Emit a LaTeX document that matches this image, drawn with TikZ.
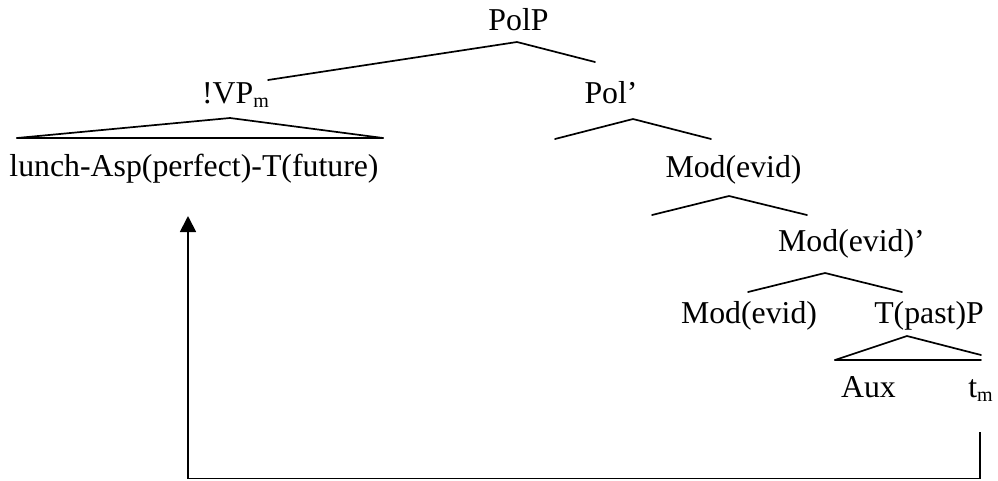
\documentclass[tikz,border=0pt]{standalone}
\usepackage{fontspec}
\setmainfont{Liberation Serif}
\usetikzlibrary{arrows.meta}
\newcommand\lowsub[1]{\raisebox{-0.13em}{\fontsize{20}{20}\selectfont #1}}
\begin{document}
\begin{tikzpicture}[x=1pt,y=-1pt,
  lbl/.style={anchor=base,inner sep=0pt,font=\fontsize{31.8}{36}\selectfont},
  branch/.style={line width=1.7pt,line cap=round},
  mover/.style={line width=1.8pt,-{Triangle[length=16pt,width=16pt]}}]
\useasboundingbox (0,0) rectangle (998,480);
% labels
\node[lbl] (polp) at (518.5,30) {PolP};
\node[lbl] (vp) at (235.5,103) {!VP\lowsub{m}};
\node[lbl] (polbar) at (611,103) {Pol’};
\node[lbl] (lunch) at (194,176.5) {lunch-Asp(perfect)-T(future)};
\node[lbl] (mod1) at (733.5,177) {Mod(evid)};
\node[lbl] (modbar) at (851.5,251) {Mod(evid)’};
\node[lbl] (mod2) at (749,323) {Mod(evid)};
\node[lbl] (tp) at (929,323) {T(past)P};
\node[lbl] (aux) at (868.5,397) {Aux};
\node[lbl] (tm) at (980.5,397) {t\lowsub{m}};
% branch points
\coordinate (polpA) at (517,42);
\coordinate (polpL) at (268,80);
\coordinate (polpR) at (595,62);
\coordinate (vpA) at (230,118);
\coordinate (vpL) at (17,138);
\coordinate (vpR) at (383,138);
\coordinate (polbarA) at (633,119);
\coordinate (polbarL) at (555,139);
\coordinate (polbarR) at (711,139);
\coordinate (mod1A) at (729,196);
\coordinate (mod1L) at (652,215);
\coordinate (mod1R) at (807,215);
\coordinate (modbarA) at (825,273);
\coordinate (modbarL) at (748,292);
\coordinate (modbarR) at (902,292);
\coordinate (tpA) at (907,336);
\coordinate (tpL) at (835,360);
\coordinate (tpR) at (981,355);
\coordinate (tpB) at (981,360);
% branches
\draw[branch] (polpL) -- (polpA) -- (polpR);
\draw[branch] (vpL) -- (vpA) -- (vpR);
\draw[branch] (vpL) -- (vpR);
\draw[branch] (polbarL) -- (polbarA) -- (polbarR);
\draw[branch] (mod1L) -- (mod1A) -- (mod1R);
\draw[branch] (modbarL) -- (modbarA) -- (modbarR);
\draw[branch] (tpL) -- (tpA) -- (tpR);
\draw[branch] (tpL) -- (tpB);
% movement arrow
\coordinate (trStart) at (980,432);
\coordinate (trCorner) at (980,478.5);
\coordinate (lCorner) at (188,478.5);
\coordinate (arrEnd) at (188,216);
\draw[line width=1.5pt] (trStart) -- (trCorner) -- (lCorner);
\draw[mover] (lCorner) -- (arrEnd);
\end{tikzpicture}
\end{document}
